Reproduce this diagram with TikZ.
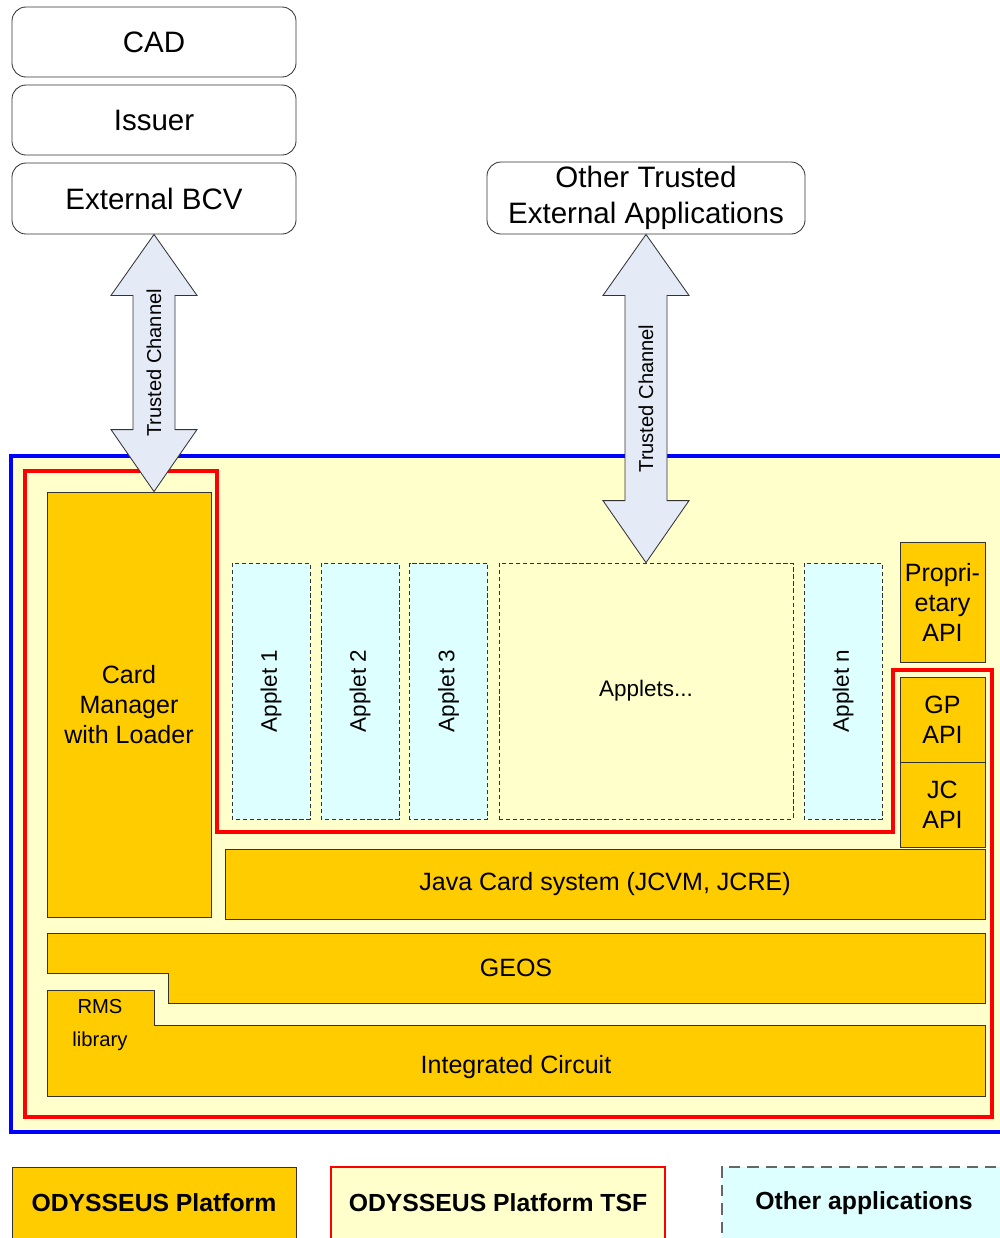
\documentclass[tikz,border=0pt]{standalone}
\usepackage{fontspec}
\setmainfont{Liberation Sans}
\usetikzlibrary{calc}

\definecolor{platform}{HTML}{FFCC00}
\definecolor{tsfbg}{HTML}{FFFFCC}
\definecolor{otherapp}{HTML}{DDFFFF}
\definecolor{channel}{HTML}{E4EAF6}

\def\pxu{0.025cm}

\tikzset{
  sz/.style 2 args={minimum width=#1*\pxu, minimum height=#2*\pxu, inner sep=0pt},
  ext/.style={draw=black!80, line width=0.6pt, fill=white, rounded corners=0.35cm,
    font=\fontsize{21}{25.6}\selectfont, align=center},
  plat/.style={draw=black!80, line width=0.6pt, fill=platform},
  plattext/.style={font=\fontsize{17.8}{21.3}\selectfont, align=center},
  applet/.style={draw=black!80, line width=0.5pt, dash pattern=on 3pt off 2pt,
    fill=otherapp, font=\fontsize{16}{19}\selectfont},
  chan/.style={draw=black!80, line width=0.6pt, fill=channel},
  chantext/.style={font=\fontsize{14.3}{17}\selectfont, rotate=90},
  legend/.style={font=\bfseries\fontsize{17.6}{21}\selectfont}
}

% double arrow between two points, with its label
\newcommand{\trustedchannel}[3]{%
  \draw[chan] (#1) -- ($(#1)+(43,61)$) -- ($(#1)+(21,61)$) -- ($(#2)+(21,-62)$)
    -- ($(#2)+(43,-62)$) -- (#2) -- ($(#2)+(-43,-62)$) -- ($(#2)+(-21,-62)$)
    -- ($(#1)+(-21,61)$) -- ($(#1)+(-43,61)$) -- cycle;
  \node[chantext] (#3) at ($(#1)!0.5!(#2)$) {Trusted Channel};
}

\begin{document}
\begin{tikzpicture}[x=0.025cm, y=-0.025cm]

\useasboundingbox (0,0) rectangle (1000,1238);
\clip (0,0) rectangle (1000,1238);

% external entities
\node[ext, sz={284}{70}] (cad) at (154,42) {CAD};
\node[ext, sz={284}{70}] (issuer) at (154,120) {Issuer};
\node[ext, sz={284}{71}] (bcv) at (154,198.5) {External BCV};
\node[ext, sz={318}{72}] (ota) at (646,198) {Other Trusted\\External Applications};

% card frame
\draw[blue, line width=2.2pt, fill=tsfbg] (11,456) rectangle (1010,1132);

% TSF outline
\draw[red, line width=2.6pt] (25,471) -- (217,471) -- (217,832) -- (893,832)
  -- (893,670) -- (992,670) -- (992,1117) -- (25,1117) -- cycle;

% card manager
\node[plat, plattext, sz={164}{425}] (cm) at (129,704.5) {Card\\Manager\\with Loader};

% applets
\foreach \n/\x in {1/271, 2/360, 3/448.5, n/843}
  \node[applet, sz={256}{78}, rotate=90] (app\n) at (\x,691) {Applet \n};
\node[applet, fill=tsfbg, sz={294}{256}] (apps) at (646,691) {Applets...};

% APIs
\node[plat, plattext, sz={85}{120}] (prop) at (942.5,602) {Propri-\\etary\\API};
\node[plat, plattext, sz={85}{85}] (gp) at (942.5,719.5) {GP\\API};
\node[plat, plattext, sz={85}{85}] (jc) at (942.5,804.5) {JC\\API};

% java card system
\node[plat, plattext, sz={760}{70}] (jcs) at (605,884) {Java Card system (JCVM, JCRE)};

% GEOS
\draw[plat] (47,933) -- (985,933) -- (985,1003) -- (168,1003) -- (168,973)
  -- (47,973) -- cycle;
\node[plattext] (geos) at (516,968) {GEOS};

% integrated circuit
\draw[plat] (47,990) -- (154,990) -- (154,1025) -- (985,1025) -- (985,1096)
  -- (47,1096) -- cycle;
\node[plattext] (ic) at (516,1067) {Integrated Circuit};
\node[font=\fontsize{14.4}{23.5}\selectfont, align=center] (rms) at (100,1025) {RMS\\library};

% trusted channels
\coordinate (lt) at (bcv.south);
\coordinate (lb) at (bcv.south |- cm.north);
\trustedchannel{lt}{lb}{lch}
\trustedchannel{ota.south}{apps.north}{rch}

% legend
\node[plat, legend, sz={284}{72}] (lplat) at (154,1203) {ODYSSEUS Platform};
\node[draw=red, line width=1.6pt, fill=tsfbg, legend, sz={334}{72}] (ltsf) at (498,1203) {ODYSSEUS Platform TSF};
\node[draw=black!60, line width=0.8pt, dash pattern=on 8pt off 5pt, fill=otherapp, legend, sz={284}{72}] (lother) at (864,1203) {Other applications};

\end{tikzpicture}
\end{document}
